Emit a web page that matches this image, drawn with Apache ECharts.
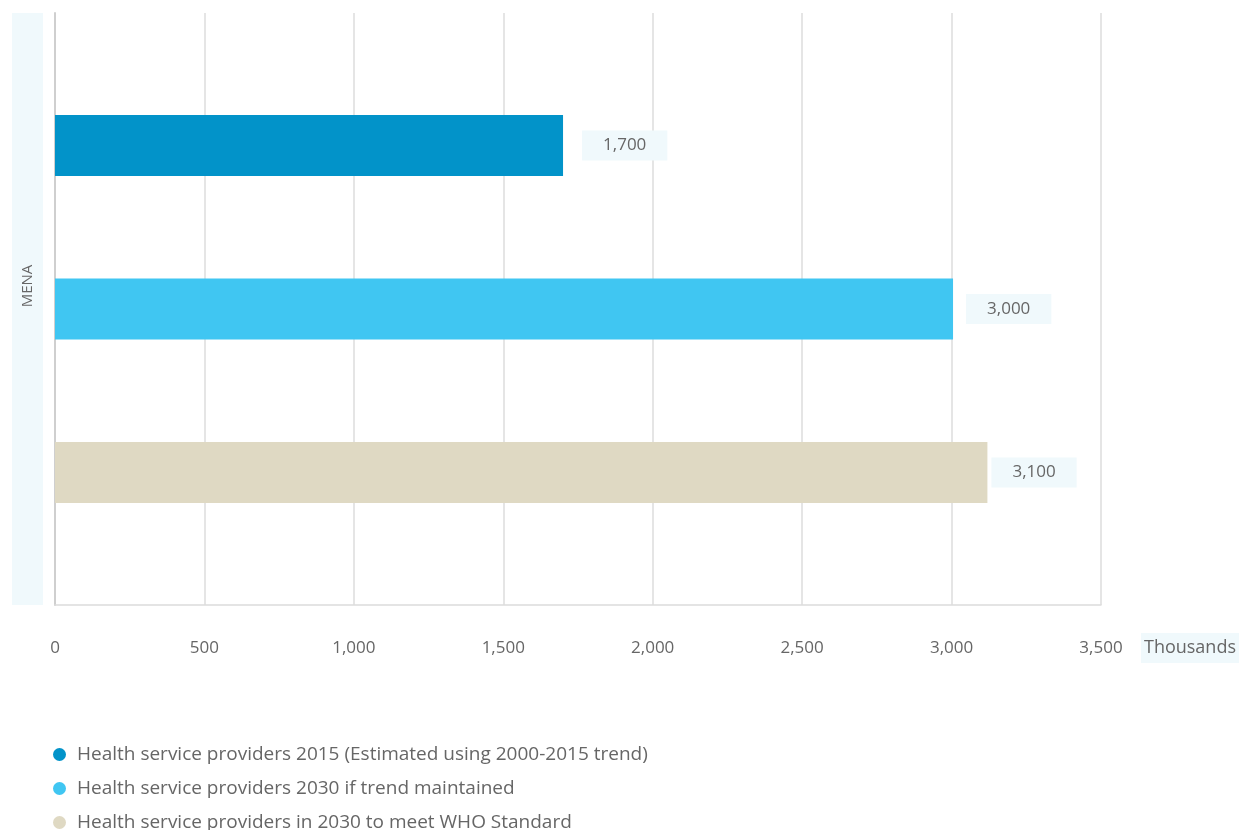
<!DOCTYPE html>
<html>
<head>
<meta charset="utf-8">
<script src="https://cdn.jsdelivr.net/npm/echarts@6/dist/echarts.min.js"></script>
<style>
html,body{margin:0;padding:0;background:#fff;}
#chart{width:1242px;height:830px;}
</style>
</head>
<body>
<div id="chart"></div>
<script>
const categories = ['MENA'];
const seriesNames = [
  'Health service providers 2015 (Estimated using 2000-2015 trend)',
  'Health service providers 2030 if trend maintained',
  'Health service providers in 2030 to meet WHO Standard'
];
const values2015 = [1700];
const values2030Trend = [3005];
const values2030WHO = [3120];
const labelTexts = ['1,700', '3,000', '3,100'];
const xTicks = [0, 500, 1000, 1500, 2000, 2500, 3000, 3500];

const colors = ['#0293c9', '#40c6f2', '#dfd9c3'];
const seriesValues = [values2015, values2030Trend, values2030WHO];
const labelDistances = [19, 13, 4];
const FONT = '"Open Sans", "Noto Sans", sans-serif';

const chart = echarts.init(document.getElementById('chart'), null, {renderer: 'canvas'});

const series = seriesNames.map((name, i) => ({
  name: name,
  type: 'bar',
  data: seriesValues[i],
  barWidth: 61,
  barGap: '168%',
  itemStyle: {color: colors[i]},
  label: {
    show: true,
    position: 'right',
    distance: labelDistances[i],
    formatter: () => labelTexts[i],
    color: '#666',
    fontFamily: FONT,
    fontSize: 17,
    backgroundColor: '#f0f9fc',
    padding: [6, 21, 6, 21],
    lineHeight: 18
  }
}));

chart.setOption({
  animation: false,
  color: colors,
  textStyle: {fontFamily: FONT},
  grid: {left: 55, right: 137, top: 13, bottom: 225, containLabel: false},
  legend: {
    orient: 'vertical',
    left: 53,
    top: 745,
    height: 120,
    padding: 0,
    icon: 'circle',
    itemWidth: 13,
    itemHeight: 13,
    itemGap: 15,
    textStyle: {color: '#666', fontSize: 19, fontFamily: FONT, padding: [0, 0, 0, 6]},
    data: seriesNames
  },
  xAxis: {
    type: 'value',
    min: xTicks[0],
    max: xTicks[xTicks.length - 1],
    interval: 500,
    axisLine: {show: true, lineStyle: {color: '#dcdcdc', width: 1.5}},
    axisTick: {show: false},
    splitLine: {show: true, lineStyle: {color: '#dcdcdc', width: 1.5}},
    axisLabel: {
      color: '#666', fontSize: 17, fontFamily: FONT, margin: 35,
      formatter: v => v.toLocaleString('en-US')
    },
    name: '{a|Thousands}',
    nameLocation: 'end',
    nameGap: 40,
    nameTextStyle: {
      verticalAlign: 'top',
      align: 'left',
      padding: [33, 0, 0, 0],
      rich: {
        a: {
          color: '#666', fontSize: 18, fontFamily: FONT,
          backgroundColor: '#f0f9fc', padding: [6, 3], lineHeight: 20
        }
      }
    }
  },
  yAxis: {
    type: 'category',
    data: categories,
    inverse: true,
    axisLine: {show: true, lineStyle: {color: '#cfcfcf', width: 2}},
    axisTick: {show: false},
    axisLabel: {
      rotate: 90,
      margin: 12,
      color: '#666',
      fontSize: 15,
      fontFamily: FONT,
      backgroundColor: '#f0f9fc',
      width: 546,
      align: 'center',
      padding: [7, 0, 7, 46],
      lineHeight: 17
    }
  },
  series: series
});
</script>
</body>
</html>
